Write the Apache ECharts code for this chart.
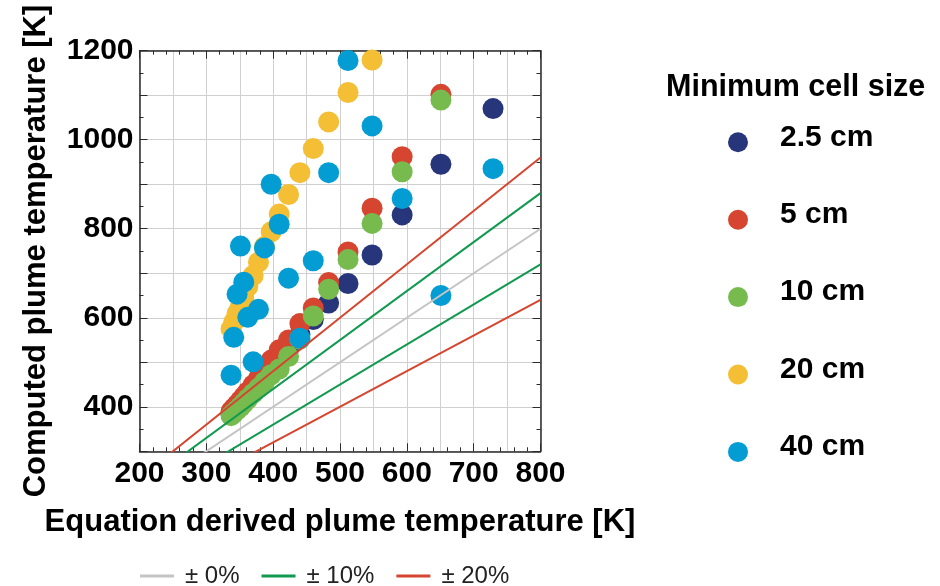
<!DOCTYPE html>
<html>
<head>
<meta charset="utf-8">
<script src="https://cdn.jsdelivr.net/npm/echarts@6/dist/echarts.min.js"></script>
<style>
  html, body { margin: 0; padding: 0; background: #fff; }
  #my_chart { width: 940px; height: 586px; }
</style>
</head>
<body>
<div id="my_chart"></div>
<script>
// equation derived temperature (shared by all runs)
var tempEq = [337, 341, 346, 351, 356, 362, 370, 378, 387, 397, 409, 423, 440, 460, 483, 512, 548, 593, 651, 729];

// computed temperature per minimum cell size (null = off the chart)
var cell2_5 = [383, 390, 398, 406, 415, 425, 438, 452, 468, 486, 506, 530, 562, 596, 633, 677, 741, 831, 945, 1070];
var cell5 = [390, 397, 405, 414, 423, 434, 449, 464, 482, 505, 528, 550, 587, 622, 679, 748, 846, 962, 1102, null];
var cell10 = [380, 386, 393, 400, 408, 418, 430, 442, 456, 472, 485, 513, 552, 604, 664, 731, 812, 928, 1089, null];
var cell20 = [575, 590, 610, 625, 645, 670, 695, 725, 760, 793, 833, 877, 926, 980, 1040, 1106, 1179, null, null, null];
var cell40 = [471, 556, 653, 761, 680, 601, 501, 619, 757, 900, 810, 689, 554, 728, 926, 1178, 1031, 868, 650, 935];

var cellNames = ['2.5 cm', '5 cm', '10 cm', '20 cm', '40 cm'];
var cellColors = ['#27357a', '#d5452f', '#77bb4f', '#f4be35', '#039dd3'];

// y = k * x reference lines
var refRatios = [1, 1.1, 0.9, 1.2, 0.8];
var refNames = ['± 0%', '± 10%', '± 10%', '± 20%', '± 20%'];
var refColors = ['#c4c4c4', '#11994f', '#11994f', '#d5452f', '#d5452f'];
var xRange = [200, 800];

var FONT = "'Liberation Sans', Arial, sans-serif";

function pairs(ys) {
    var out = [];
    for (var i = 0; i < tempEq.length; i++) {
        if (ys[i] != null) {
            out.push([tempEq[i], ys[i]]);
        }
    }
    return out;
}

var series = [];
var cellData = [cell2_5, cell5, cell10, cell20, cell40];
for (var i = 0; i < cellData.length; i++) {
    series.push({
        type: 'scatter',
        name: cellNames[i],
        data: pairs(cellData[i]),
        symbolSize: 21,
        itemStyle: { color: cellColors[i], opacity: 1 },
        z: 2
    });
}
for (var j = 0; j < refRatios.length; j++) {
    series.push({
        type: 'line',
        name: refNames[j],
        data: [[xRange[0], xRange[0] * refRatios[j]], [xRange[1], xRange[1] * refRatios[j]]],
        symbol: 'none',
        clip: true,
        lineStyle: { color: refColors[j], width: 2 },
        itemStyle: { color: refColors[j] },
        z: 4
    });
}

var frame = { show: true, lineStyle: { color: '#2a2a2a', width: 1.5 } };
var tickIn = { show: true, inside: true, length: 8, lineStyle: { color: '#2a2a2a', width: 1 } };
var gridLine = { show: true, lineStyle: { color: '#d0d0d0', width: 1 } };

var option = {
    animation: false,
    backgroundColor: '#fff',
    textStyle: { fontFamily: FONT },
    title: {
        text: 'Minimum cell size',
        left: 661,
        top: 67,
        textStyle: { fontFamily: FONT, fontSize: 30.5, fontWeight: 'bold', color: '#000' }
    },
    grid: { left: 139.5, right: 399.5, top: 50.7, bottom: 134.7 },
    legend: [
        {
            data: ['± 0%', '± 10%', '± 20%'],
            left: 140,
            top: 564,
            padding: 0,
            icon: 'rect',
            itemWidth: 34,
            itemHeight: 3,
            itemGap: 22,
            textStyle: { fontFamily: FONT, fontSize: 24, color: '#222', padding: [0, 0, 0, 6] }
        },
        {
            data: cellNames,
            orient: 'vertical',
            left: 728,
            top: 122.3,
            padding: 0,
            icon: 'circle',
            itemWidth: 20,
            itemHeight: 20,
            itemGap: 37.4,
            formatter: function (name) {
                return '{t|' + name + '}{s| }';
            },
            textStyle: {
                fontFamily: FONT, fontSize: 30, fontWeight: 'bold', color: '#000',
                rich: {
                    t: {
                        fontFamily: FONT, fontSize: 30, fontWeight: 'bold', color: '#000',
                        lineHeight: 30, verticalAlign: 'top', padding: [0, 0, 0, 27]
                    },
                    s: { width: 1, height: 40, lineHeight: 40 }
                }
            }
        }
    ],
    xAxis: [
        {
            type: 'value', min: 200, max: 800, interval: 100, position: 'bottom',
            axisLine: frame, axisTick: tickIn,
            minorTick: { show: true, splitNumber: 5, length: 4, lineStyle: { color: '#2a2a2a' } },
            splitLine: { show: false },
            axisLabel: { fontFamily: FONT, fontSize: 30, fontWeight: 'bold', color: '#000', margin: 7 },
            name: 'Equation derived plume temperature [K]',
            nameLocation: 'middle',
            nameGap: 56,
            nameTextStyle: { fontFamily: FONT, fontSize: 31, fontWeight: 'bold', color: '#000' }
        },
        {
            type: 'value', min: 200, max: 800, interval: 100, position: 'top',
            axisLine: frame, axisTick: tickIn,
            minorTick: { show: true, splitNumber: 5, length: 4, lineStyle: { color: '#2a2a2a' } },
            splitLine: { show: false },
            axisLabel: { show: false }
        },
        {
            // vertical grid lines every 50
            type: 'value', min: 200, max: 800, interval: 50,
            axisLine: { show: false }, axisTick: { show: false }, axisLabel: { show: false },
            splitLine: gridLine
        }
    ],
    yAxis: [
        {
            type: 'value', min: 300, max: 1200, interval: 100, position: 'left',
            axisLine: frame, axisTick: tickIn,
            minorTick: { show: true, splitNumber: 2, length: 4, lineStyle: { color: '#2a2a2a' } },
            splitLine: gridLine,
            axisLabel: {
                fontFamily: FONT, fontSize: 30, fontWeight: 'bold', color: '#000', margin: 6,
                formatter: function (v) { return v % 200 === 0 ? String(v) : ''; }
            },
            name: 'Computed plume temperature [K]',
            nameLocation: 'middle',
            nameGap: 88,
            nameRotate: 90,
            nameTextStyle: { fontFamily: FONT, fontSize: 31, fontWeight: 'bold', color: '#000' }
        },
        {
            type: 'value', min: 300, max: 1200, interval: 100, position: 'right',
            axisLine: frame, axisTick: tickIn,
            minorTick: { show: true, splitNumber: 2, length: 4, lineStyle: { color: '#2a2a2a' } },
            splitLine: { show: false },
            axisLabel: { show: false }
        }
    ],
    series: series
};

var myChart = echarts.init(document.getElementById('my_chart'));
myChart.setOption(option);
</script>
</body>
</html>
